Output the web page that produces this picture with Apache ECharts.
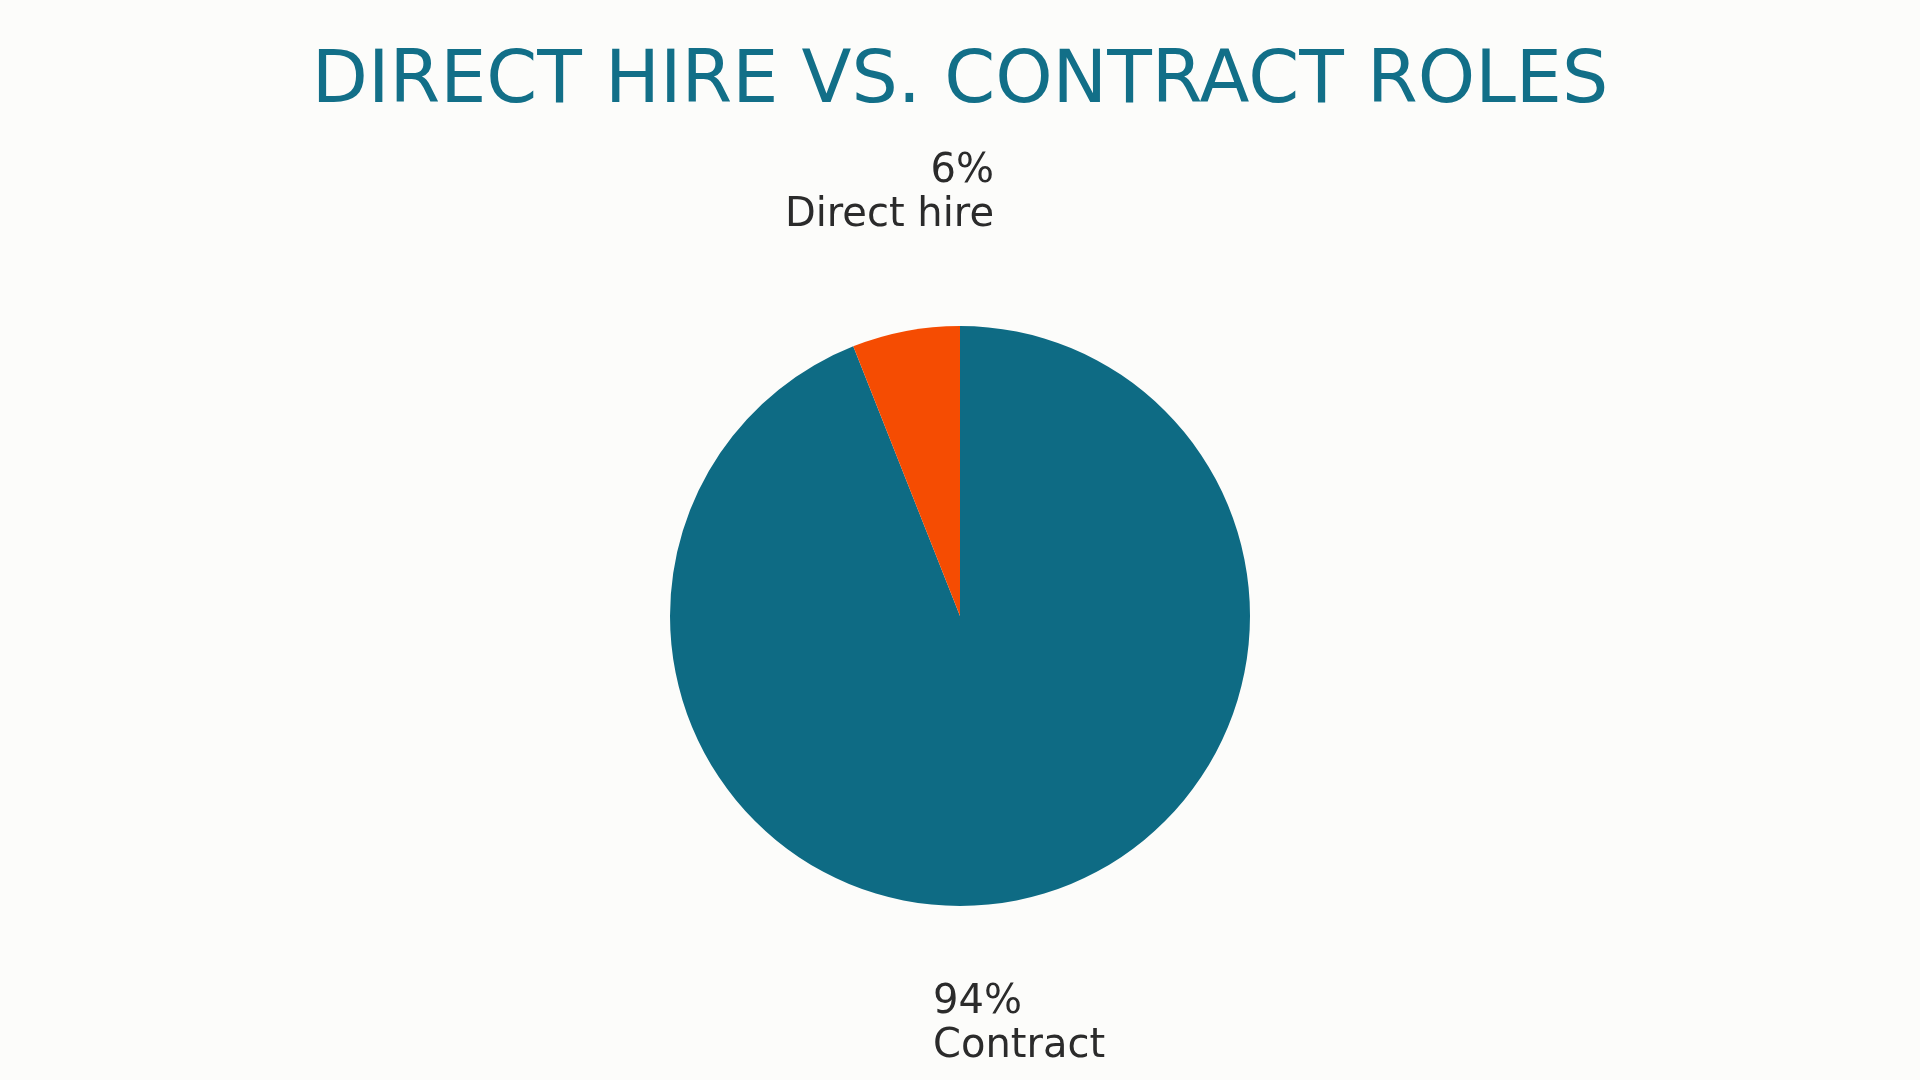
<!DOCTYPE html>
<html>
<head>
<meta charset="utf-8">
<script src="https://cdn.jsdelivr.net/npm/echarts@6/dist/echarts.min.js"></script>
<style>html,body{margin:0;padding:0;background:#fcfcfa;}#c{width:1920px;height:1080px;}</style>
</head>
<body>
<div id="c"></div>
<script>
const titleText = "DIRECT HIRE VS. CONTRACT ROLES";
const categories = ["Contract", "Direct hire"];
const values = [94, 6];
const colors = ["#0e6b84", "#f54c02"];
const labelSpots = [
  {x: 933, y: 981, align: "left"},
  {x: 994, y: 150, align: "right"}
];

const chart = echarts.init(document.getElementById('c'));
chart.setOption({
  backgroundColor: "#fcfcfa",
  animation: false,
  title: {
    text: titleText,
    left: "center",
    top: 42,
    textStyle: {fontFamily: "DejaVu Sans", fontSize: 73, fontWeight: "normal", color: "#126f88"}
  },
  series: [{
    type: "pie",
    center: [960, 616],
    radius: 290,
    startAngle: 90,
    clockwise: true,
    data: categories.map((c, i) => ({name: c, value: values[i], itemStyle: {color: colors[i]}})),
    label: {
      show: true,
      formatter: "{d}%\n{b}",
      fontFamily: "DejaVu Sans",
      fontSize: 40,
      lineHeight: 44,
      color: "#2b2b2b"
    },
    labelLine: {show: false},
    labelLayout: function (p) {
      const s = labelSpots[p.dataIndex];
      return {x: s.x, y: s.y, align: s.align, verticalAlign: "top"};
    },
    emphasis: {disabled: true}
  }]
});
</script>
</body>
</html>
